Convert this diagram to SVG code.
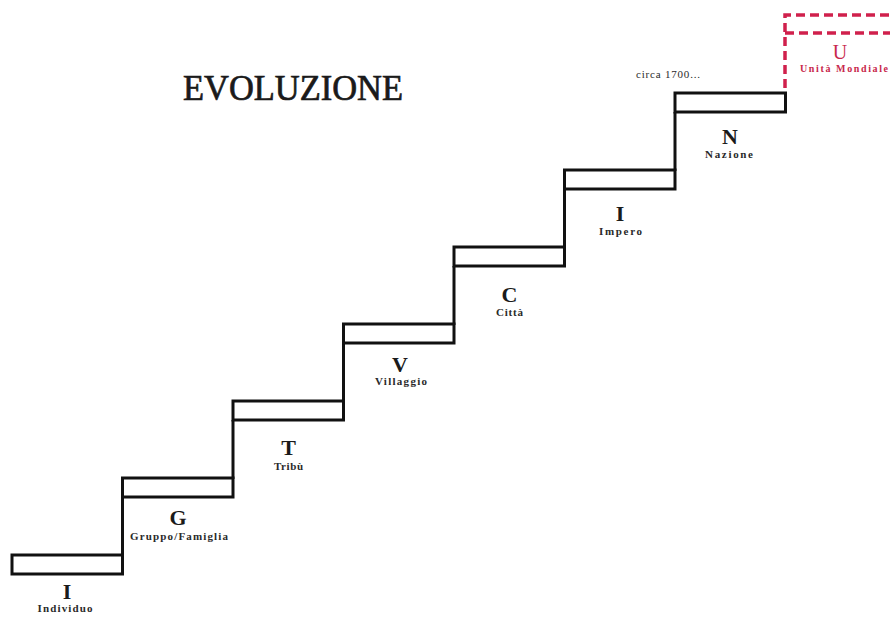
<svg xmlns="http://www.w3.org/2000/svg" width="890" height="617" viewBox="0 0 890 617">
  <style>
    .tread { fill: #ffffff; stroke: #111111; stroke-width: 3; }
    .riser { fill: none; stroke: #111111; stroke-width: 3; }
    .future { fill: none; stroke: #d0204c; stroke-width: 3.5; stroke-dasharray: 9 5; }
    .title { font-family: "Liberation Serif", "DejaVu Serif", serif; font-size: 35px; fill: #1a1a1a; stroke: #1a1a1a; stroke-width: 0.7; text-anchor: middle; }
    .letter { font-family: "Liberation Serif", "DejaVu Serif", serif; font-size: 22px; font-weight: bold; fill: #1a1a1a; text-anchor: middle; }
    .name { font-family: "Liberation Serif", "DejaVu Serif", serif; font-size: 11px; font-weight: bold; fill: #2a2a2a; text-anchor: middle; }
    .red { fill: #c8284c; }
  </style>
  <rect width="890" height="617" fill="#ffffff"/>

  <text class="title" x="293" y="100" textLength="220" lengthAdjust="spacingAndGlyphs">EVOLUZIONE</text>

  <!-- risers joining each tread to the one below -->
  <g id="connectors">
    <line class="riser" x1="122.5" y1="497" x2="122.5" y2="556"/>
    <line class="riser" x1="233" y1="420" x2="233" y2="479"/>
    <line class="riser" x1="343.5" y1="343" x2="343.5" y2="402"/>
    <line class="riser" x1="454" y1="266" x2="454" y2="325"/>
    <line class="riser" x1="564.5" y1="189" x2="564.5" y2="248"/>
    <line class="riser" x1="675" y1="112" x2="675" y2="171"/>
  </g>

  <g id="step-individuo">
    <rect class="tread" x="12" y="555" width="110.5" height="19"/>
    <text class="letter" x="67" y="599">I</text>
    <text class="name" x="65" y="612" textLength="55" lengthAdjust="spacing">Individuo</text>
  </g>

  <g id="step-gruppo">
    <rect class="tread" x="122.5" y="478" width="110.5" height="19"/>
    <text class="letter" x="178" y="525">G</text>
    <text class="name" x="179" y="540" textLength="98" lengthAdjust="spacing">Gruppo/Famiglia</text>
  </g>

  <g id="step-tribu">
    <rect class="tread" x="233" y="401" width="110.5" height="19"/>
    <text class="letter" x="288.5" y="455">T</text>
    <text class="name" x="288.5" y="470" textLength="29" lengthAdjust="spacing">Tribù</text>
  </g>

  <g id="step-villaggio">
    <rect class="tread" x="343.5" y="324" width="110.5" height="19"/>
    <text class="letter" x="400" y="372">V</text>
    <text class="name" x="401" y="385" textLength="52" lengthAdjust="spacing">Villaggio</text>
  </g>

  <g id="step-citta">
    <rect class="tread" x="454" y="247" width="110.5" height="19"/>
    <text class="letter" x="509.5" y="302">C</text>
    <text class="name" x="509.5" y="316" textLength="27" lengthAdjust="spacing">Città</text>
  </g>

  <g id="step-impero">
    <rect class="tread" x="564.5" y="170" width="110.5" height="19"/>
    <text class="letter" x="620" y="221">I</text>
    <text class="name" x="620.5" y="235" textLength="43" lengthAdjust="spacing">Impero</text>
  </g>

  <g id="step-nazione">
    <rect class="tread" x="675" y="93" width="110.5" height="19"/>
    <text class="letter" x="730" y="144">N</text>
    <text class="name" x="729" y="158" textLength="48" lengthAdjust="spacing">Nazione</text>
    <text class="name" x="668" y="78" textLength="64" lengthAdjust="spacing" style="font-weight:normal">circa 1700...</text>
  </g>

  <g id="step-unita">
    <path class="future" d="M785,88 V15 H890"/>
    <path class="future" d="M785,33 H890"/>
    <text class="letter red" x="840" y="59" style="font-weight:normal;font-size:20px">U</text>
    <text class="name red" x="844" y="72" textLength="88" lengthAdjust="spacing" style="font-size:10px">Unità Mondiale</text>
  </g>
</svg>
